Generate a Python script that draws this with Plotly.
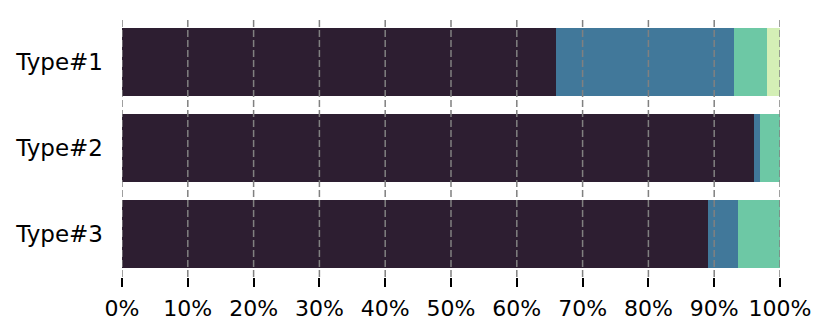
import plotly.graph_objects as go

types = ["Type#1", "Type#2", "Type#3"]
seg1 = [66.0, 96.0, 89.0]
seg2 = [27.0, 1.0, 4.6]
seg3 = [5.0, 3.0, 6.4]
seg4 = [2.0, 0.0, 0.0]
colors = ["#2d1e31", "#41789a", "#6dc8a5", "#d4efb6"]
tick_vals = [0, 10, 20, 30, 40, 50, 60, 70, 80, 90, 100]
tick_text = ["{}%".format(v) for v in tick_vals]

fig = go.Figure()
for vals, c in zip([seg1, seg2, seg3, seg4], colors):
    fig.add_trace(go.Bar(y=types, x=vals, orientation="h", marker=dict(color=c, line=dict(width=0)),
                         width=0.8, showlegend=False))

# matplotlib draws the grid above the bars, so use shapes
for v in tick_vals:
    fig.add_shape(type="line", xref="x", yref="paper", x0=v, x1=v, y0=0, y1=1,
                  line=dict(color="#808080", width=1.5, dash="7px,3px"), layer="above")

# page body adds 8px offset, so margins are shifted
fig.update_layout(
    barmode="stack",
    width=831, height=335,
    margin=dict(l=114, r=59, t=11, b=66),
    plot_bgcolor="white", paper_bgcolor="white",
    font=dict(family="DejaVu Sans", size=22, color="black"),
)
fig.update_xaxes(range=[0, 100], tickvals=tick_vals, ticktext=tick_text, showgrid=False,
                 zeroline=False, showline=False, ticks="outside", ticklen=9, tickwidth=1.5,
                 tickcolor="black", ticklabelstandoff=3, automargin=False)
fig.update_yaxes(categoryorder="array", categoryarray=types, autorange="reversed",
                 showgrid=False, zeroline=False, showline=False, ticks="", ticklabelstandoff=18,
                 tickfont=dict(size=23), automargin=False)

fig.write_html("out.html")
